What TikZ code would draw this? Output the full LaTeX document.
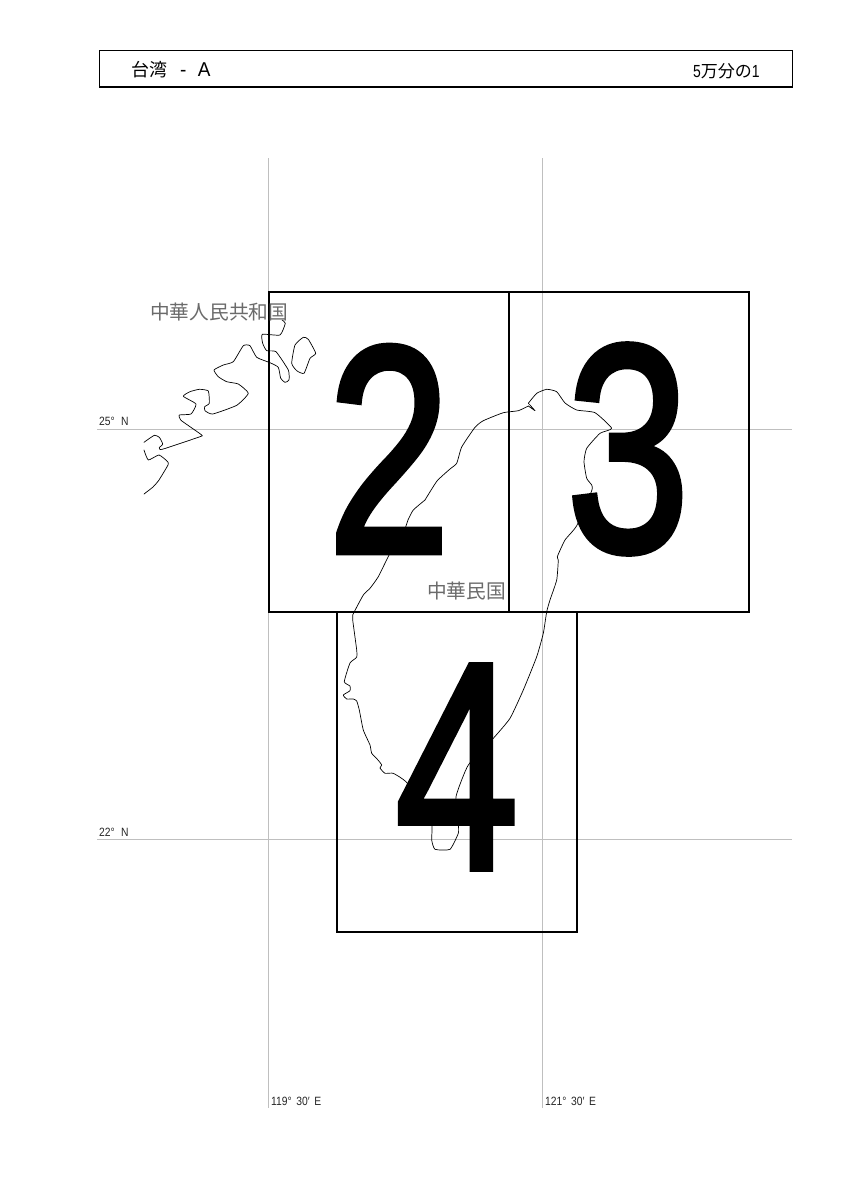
\documentclass[tikz,border=0pt]{standalone}
\usepackage{fontspec}
\setmainfont{Liberation Sans}
\newfontfamily\cjk{Noto Sans CJK JP}
\newfontfamily\digitfont[FakeBold=2.3]{Liberation Sans}
\newcommand{\bigdigit}[1]{\scalebox{0.75}[1]{\fontsize{295}{295}\selectfont\digitfont #1}}
\newcommand{\narrowtext}[1]{\scalebox{0.86}[1]{\fontsize{12}{12}\selectfont #1}}
\tikzset{
  x=1pt,y=-1pt,
  gridline/.style={draw=black!25,line width=0.8pt},
  sheet/.style={draw=black,line width=1.2pt},
  coast/.style={draw=black,line width=0.7pt,line join=round,line cap=round},
  bigno/.style={inner sep=0pt,outer sep=0pt,text=black},
  place/.style={inner sep=0pt,text=black!58,font=\cjk\fontsize{19.7}{19.7}\selectfont},
  axislabel/.style={inner sep=0pt,anchor=west,text=black!85},
  titletext/.style={inner sep=0pt,anchor=west,text=black},
  curve/.style={smooth,tension=0.3}
}
\begin{document}
\begin{tikzpicture}
\useasboundingbox[fill=white] (0,0) rectangle (848,1200);
% graticule
\draw[gridline] (268.5,158) -- (268.5,1108);
\draw[gridline] (542.7,158) -- (542.7,1108);
\draw[gridline] (97,429) -- (792,429);
\draw[gridline] (97,839.5) -- (792,839.5);
% islands
\draw[coast] plot[curve] coordinates {(144,494) (153,487) (159,480) (168,465) (167.7,461.7) (159,455) (148.3,460) (144,450)};
\draw[coast] plot[curve] coordinates {(144,442.3) (154.3,435.3) (159.3,437.3) (162.7,444) (159.3,447.7) (162.3,449.3) (200,436.7) (201.7,435) (190,426.7) (180.7,420) (179.3,415) (191,414) (196,404) (183.3,396.3) (190,391.7) (199.3,389.3) (208.3,391) (209.3,403.3) (204.7,406.7) (205,410.7) (212.7,414) (236.7,405.3) (248.3,393.3) (238.3,384) (226.7,381.7) (218.3,376.7) (214,370) (223.3,365) (233.3,361.7) (243.3,345.7) (250,345.7) (256.7,357.3) (270,362.7) (278.3,367.3) (280.7,378.3) (285,382.3) (289,380) (288.3,370) (276,351.7) (266.7,350.7) (262.7,343.3) (262.3,334.3) (280,335) (285.3,323.3) (282,320)};
\draw[coast] plot[smooth cycle,tension=0.3] coordinates {(303.3,337.3) (308.3,339.3) (315.7,353.3) (310,358.3) (304,373.3) (296.7,370.7) (291.7,363.3) (295,345)};
% Taiwan
\draw[coast] plot[curve] coordinates {(425,500) (413.3,510) (408,520) (403.3,533.3) (390,553.3) (378.3,576.7) (370,588.3) (363.3,595) (352.7,615) (352.7,620) (356.7,650) (356.7,657.3) (350,663) (344.3,681.7) (350,686) (350,690.7) (343.3,695) (346.7,699) (353.3,699) (356.7,701) (359.3,710) (363.3,730) (370,745) (371.7,753.3) (378,760) (381.7,765) (380,768) (385,773.3) (393.3,773.3) (406,781.7) (420,801.7) (431.7,823.3) (431.7,840) (435,849.3) (450,849.3) (458.3,833.3) (458.3,823.3) (456,796.7) (468.3,765) (493.3,738.3) (510,718.3) (523.3,690) (536.7,656.7) (543.3,633.3) (546.7,611.7) (550,600) (556.7,580) (558.3,560) (557.3,556.7) (565,540) (576.7,525.7) (591.7,490.7) (591.7,485) (586.7,478.3) (584,461.7) (586.7,448.3) (600,433.3) (611.7,428.3) (595,412.7) (576.7,410) (565,403) (556.7,391.7) (546.7,389.3) (536.7,393.3) (528.3,403.3)};
\draw[coast] (528.3,403.3) -- (530,405) -- (535,410.7) -- (528.3,406);
\draw[coast] plot[curve] coordinates {(528.3,406) (518.3,410.7) (503.3,412.7) (483.3,420.7) (475,427.3) (461.7,447) (456.7,463.3) (450,469) (437,481) (425,500)};
% sheets
\node[sheet,inner sep=0pt,minimum width=240pt,minimum height=320pt] (s2) at (389,452) {};
\node[sheet,inner sep=0pt,minimum width=240pt,minimum height=320pt] (s3) at (629,452) {};
\node[sheet,inner sep=0pt,minimum width=240pt,minimum height=320pt] (s4) at (457,772) {};
% big numbers
\node[bigno] (n2) at (389,449) {\bigdigit{2}};
\node[bigno] (n3) at (628,449) {\bigdigit{3}};
\node[bigno] (n4) at (457,767) {\bigdigit{4}};
% place names
\node[place,anchor=west] (cn) at (150,312) {中華人民共和国};
\node[place,anchor=west] (tw) at (427,591) {中華民国};
% axis labels
\node[axislabel] (l25) at (99,421) {\narrowtext{25° \,\,N}};
\node[axislabel] (l22) at (99,832) {\narrowtext{22° \,\,N}};
\node[axislabel] (l119) at (271,1101) {\narrowtext{119° \,30′ \,E}};
\node[axislabel] (l121) at (545,1101) {\narrowtext{121° \,30′ \,E}};
% title
\node[draw=black,line width=1.2pt,inner sep=0pt,minimum width=693pt,minimum height=36.5pt] (title) at (446,68.7) {};
\node[titletext] (tname) at (131,70) {{\cjk\fontsize{18}{18}\selectfont 台湾}\hspace{13pt}\scalebox{0.95}[1]{\fontsize{20}{20}\selectfont -\hspace{12pt}A}};
\node[titletext] (tscale) at (693,71) {\scalebox{0.8}[1]{\fontsize{17.5}{17.5}\selectfont 5}{\cjk\fontsize{17}{17}\selectfont 万分の}\scalebox{0.8}[1]{\fontsize{17.5}{17.5}\selectfont 1}};
\end{tikzpicture}
\end{document}
